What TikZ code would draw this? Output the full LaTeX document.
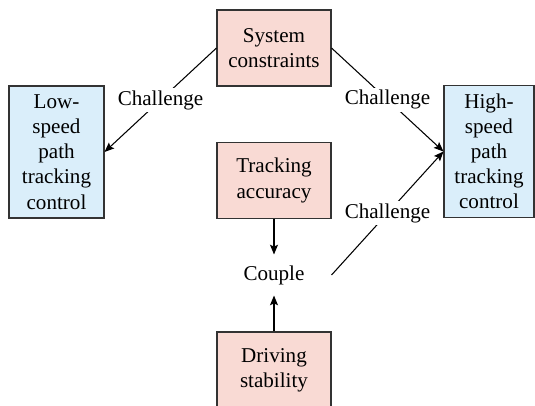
\documentclass[tikz,border=0pt]{standalone}
\usepackage{fontspec}
\setmainfont{Liberation Serif}
\usetikzlibrary{arrows.meta}
\definecolor{boxpink}{RGB}{249,218,212}
\definecolor{boxblue}{RGB}{218,238,250}
\tikzset{
  redbox/.style={draw=black!80,fill=boxpink,align=center,minimum width=2.28cm,minimum height=1.52cm,inner sep=1pt},
  bluebox/.style={draw=black!80,fill=boxblue,align=center,minimum height=2.64cm,inner sep=1pt},
  chlabel/.style={fill=white,inner sep=1.5pt}
}
\begin{document}
\begin{tikzpicture}[>={Stealth[length=5.5pt,width=4.5pt,inset=1pt]},line width=0.6pt,font=\fontsize{12}{14.3}\selectfont]
                  \useasboundingbox (0,0) rectangle (10.7,8.1);
                  \node[redbox] (sys) at (5.48,7.14) {System\\constraints};
                  \node[redbox] (acc) at (5.48,4.49) {Tracking\\accuracy};
                  \node[redbox] (stab) at (5.48,0.70) {Driving\\stability};
                  \node[minimum width=2.28cm,minimum height=0.8cm,inner sep=0pt] (couple) at (5.48,2.6) {Couple};
                  \node[bluebox,minimum width=1.9cm] (low) at (1.13,5.06) {Low-\\speed\\path\\tracking\\control};
                  \node[bluebox,minimum width=1.8cm] (high) at (9.78,5.07) {High-\\speed\\path\\tracking\\control};
                  \draw[->] (sys.west)--node[chlabel]{Challenge}(low.east);
                  \draw[->] (sys.east)--node[chlabel]{Challenge}(high.west);
                  \draw[->] (couple.east)--node[chlabel]{Challenge}(high.west);
                  \draw[->] (acc.south)--(couple.north);
                  \draw[->] (stab.north)--(couple.south);
              \end{tikzpicture}
\end{document}
